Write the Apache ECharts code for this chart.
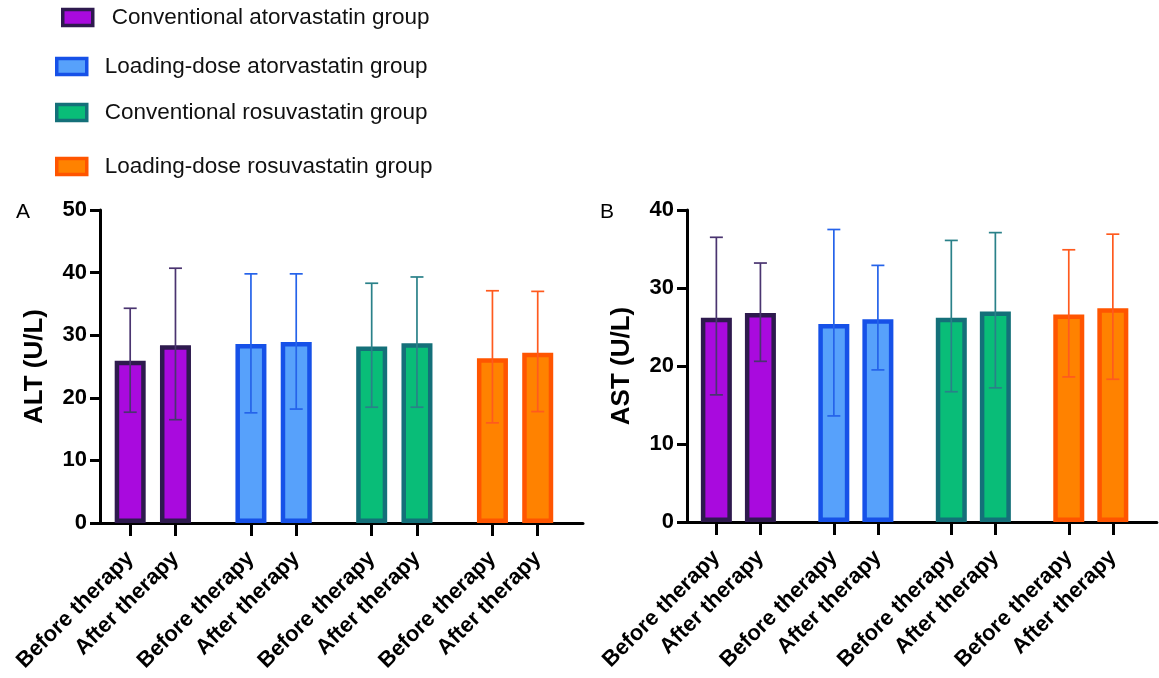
<!DOCTYPE html>
<html>
<head>
<meta charset="utf-8">
<script src="https://cdn.jsdelivr.net/npm/echarts@6/dist/echarts.min.js"></script>
<style>
  html, body { margin: 0; padding: 0; background: #fff; }
  #main { width: 1159px; height: 678px; }
</style>
</head>
<body>
<div id="main"></div>
<script>
var groups = ['Conventional atorvastatin group', 'Loading-dose atorvastatin group',
              'Conventional rosuvastatin group', 'Loading-dose rosuvastatin group'];
var phases = ['Before therapy', 'After therapy'];

// ALT (U/L): mean and error bar ends, [before, after] per group
var altMean = [[25.9, 28.4], [28.6, 28.9], [28.2, 28.7], [26.3, 27.2]];
var altLow  = [[17.7, 16.5], [17.6, 18.2], [18.5, 18.5], [16.0, 17.8]];
var altHigh = [[34.3, 40.7], [39.8, 39.8], [38.3, 39.3], [37.1, 37.0]];

// AST (U/L)
var astMean = [[26.2, 26.8], [25.4, 26.0], [26.2, 27.0], [26.6, 27.4]];
var astLow  = [[16.3, 20.6], [13.6, 19.5], [16.7, 17.2], [18.6, 18.3]];
var astHigh = [[36.5, 33.2], [37.5, 32.9], [36.1, 37.1], [34.9, 36.9]];

var altTicks = [0, 10, 20, 30, 40, 50];
var astTicks = [0, 10, 20, 30, 40];

// colours: fill, outline, error bar
var fills   = ['#a90ade', '#57a1fb', '#09bd78', '#ff8200'];
var borders = ['#2e1a4e', '#1651e8', '#147079', '#ff5500'];
var errCols = ['#4a3470', '#2563ea', '#2a8189', '#ff5a1e'];

var FONT = 'Liberation Sans, Arial, sans-serif';

// layout of the slots on the category axis: 3 slots between a pair, 8 per group
var NSLOT = 33;
function slotOf(g, p) { return 2 + g * 8 + p * 3; }

var slots = [];
for (var i = 0; i < NSLOT; i++) slots.push('');
for (var g = 0; g < groups.length; g++)
  for (var p = 0; p < phases.length; p++) slots[slotOf(g, p)] = phases[p];

var myChart = echarts.init(document.getElementById('main'));

function errRender(color) {
  return function (params, api) {
    var x = api.value(0);
    var lo = api.coord([x, api.value(1)]);
    var hi = api.coord([x, api.value(2)]);
    var half = 6.5;
    var st = { stroke: color, lineWidth: 1.7 };
    return {
      type: 'group',
      children: [
        { type: 'line', shape: { x1: lo[0], y1: lo[1], x2: hi[0], y2: hi[1] }, style: st },
        { type: 'line', shape: { x1: hi[0] - half, y1: hi[1], x2: hi[0] + half, y2: hi[1] }, style: st },
        { type: 'line', shape: { x1: lo[0] - half, y1: lo[1], x2: lo[0] + half, y2: lo[1] }, style: st }
      ]
    };
  };
}

function panelSeries(axisIdx, mean, low, high) {
  var out = [];
  for (var g = 0; g < groups.length; g++) {
    var vals = [];
    for (var i = 0; i < NSLOT; i++) vals.push('-');
    var errs = [];
    for (var p = 0; p < phases.length; p++) {
      vals[slotOf(g, p)] = mean[g][p];
      errs.push([slotOf(g, p), low[g][p], high[g][p]]);
    }
    out.push({
      name: groups[g],
      type: 'bar',
      xAxisIndex: axisIdx,
      yAxisIndex: axisIdx,
      stack: 'panel' + axisIdx,
      barWidth: 31,
      data: vals,
      itemStyle: { color: fills[g], borderColor: borders[g], borderWidth: 4.5 },
      emphasis: { disabled: true },
      z: 2
    });
    out.push({
      type: 'custom',
      xAxisIndex: axisIdx,
      yAxisIndex: axisIdx,
      renderItem: errRender(errCols[g]),
      data: errs,
      encode: { x: 0, y: [1, 2] },
      z: 5
    });
  }
  return out;
}

function xAxisFor(idx) {
  return {
    type: 'category',
    gridIndex: idx,
    data: slots,
    boundaryGap: false,
    axisLine: { lineStyle: { color: '#000', width: 3 } },
    axisTick: {
      length: 13,
      lineStyle: { color: '#000', width: 3 },
      interval: function (i, v) { return v !== ''; }
    },
    axisLabel: {
      interval: 0,
      rotate: 45,
      margin: 32,
      fontFamily: FONT,
      fontWeight: 'bold',
      fontSize: 22,
      color: '#000'
    }
  };
}

function yAxisFor(idx, name, ticks) {
  return {
    type: 'value',
    gridIndex: idx,
    min: ticks[0],
    max: ticks[ticks.length - 1],
    interval: ticks[1] - ticks[0],
    name: name,
    nameLocation: 'middle',
    nameGap: 52,
    nameTextStyle: { fontFamily: FONT, fontWeight: 'bold', fontSize: 26, color: '#000' },
    splitLine: { show: false },
    axisLine: { show: true, lineStyle: { color: '#000', width: 3 } },
    axisTick: { show: true, length: 10, lineStyle: { color: '#000', width: 3 } },
    axisLabel: { margin: 13, fontFamily: FONT, fontWeight: 'bold', fontSize: 22, color: '#000' }
  };
}

var legendPos = [[61, 6, 14], [55, 55, 13], [55, 101, 13], [55, 155, 13]];
var legends = groups.map(function (name, g) {
  return {
    left: legendPos[g][0],
    top: legendPos[g][1],
    padding: 0,
    itemWidth: 30,
    itemHeight: 16,
    selectedMode: false,
    data: [{
      name: name,
      icon: 'rect',
      itemStyle: { color: fills[g], borderColor: borders[g], borderWidth: 3.5 }
    }],
    textStyle: {
      fontFamily: FONT, fontSize: 22.5, color: '#111',
      padding: [0, 0, 0, legendPos[g][2]]
    }
  };
});

option = {
  animation: false,
  backgroundColor: '#fff',
  title: [
    { text: 'A', left: 11, top: 197, textStyle: { fontFamily: FONT, fontWeight: 'normal', fontSize: 21, color: '#000' } },
    { text: 'B', left: 595, top: 197, textStyle: { fontFamily: FONT, fontWeight: 'normal', fontSize: 21, color: '#000' } }
  ],
  legend: legends,
  grid: [
    { left: 100, top: 210, width: 483, height: 313 },
    { left: 687, top: 210, width: 483, height: 312 }
  ],
  xAxis: [xAxisFor(0), xAxisFor(1)],
  yAxis: [yAxisFor(0, 'ALT (U/L)', altTicks), yAxisFor(1, 'AST (U/L)', astTicks)],
  series: panelSeries(0, altMean, altLow, altHigh).concat(panelSeries(1, astMean, astLow, astHigh))
};

myChart.setOption(option);
</script>
</body>
</html>
